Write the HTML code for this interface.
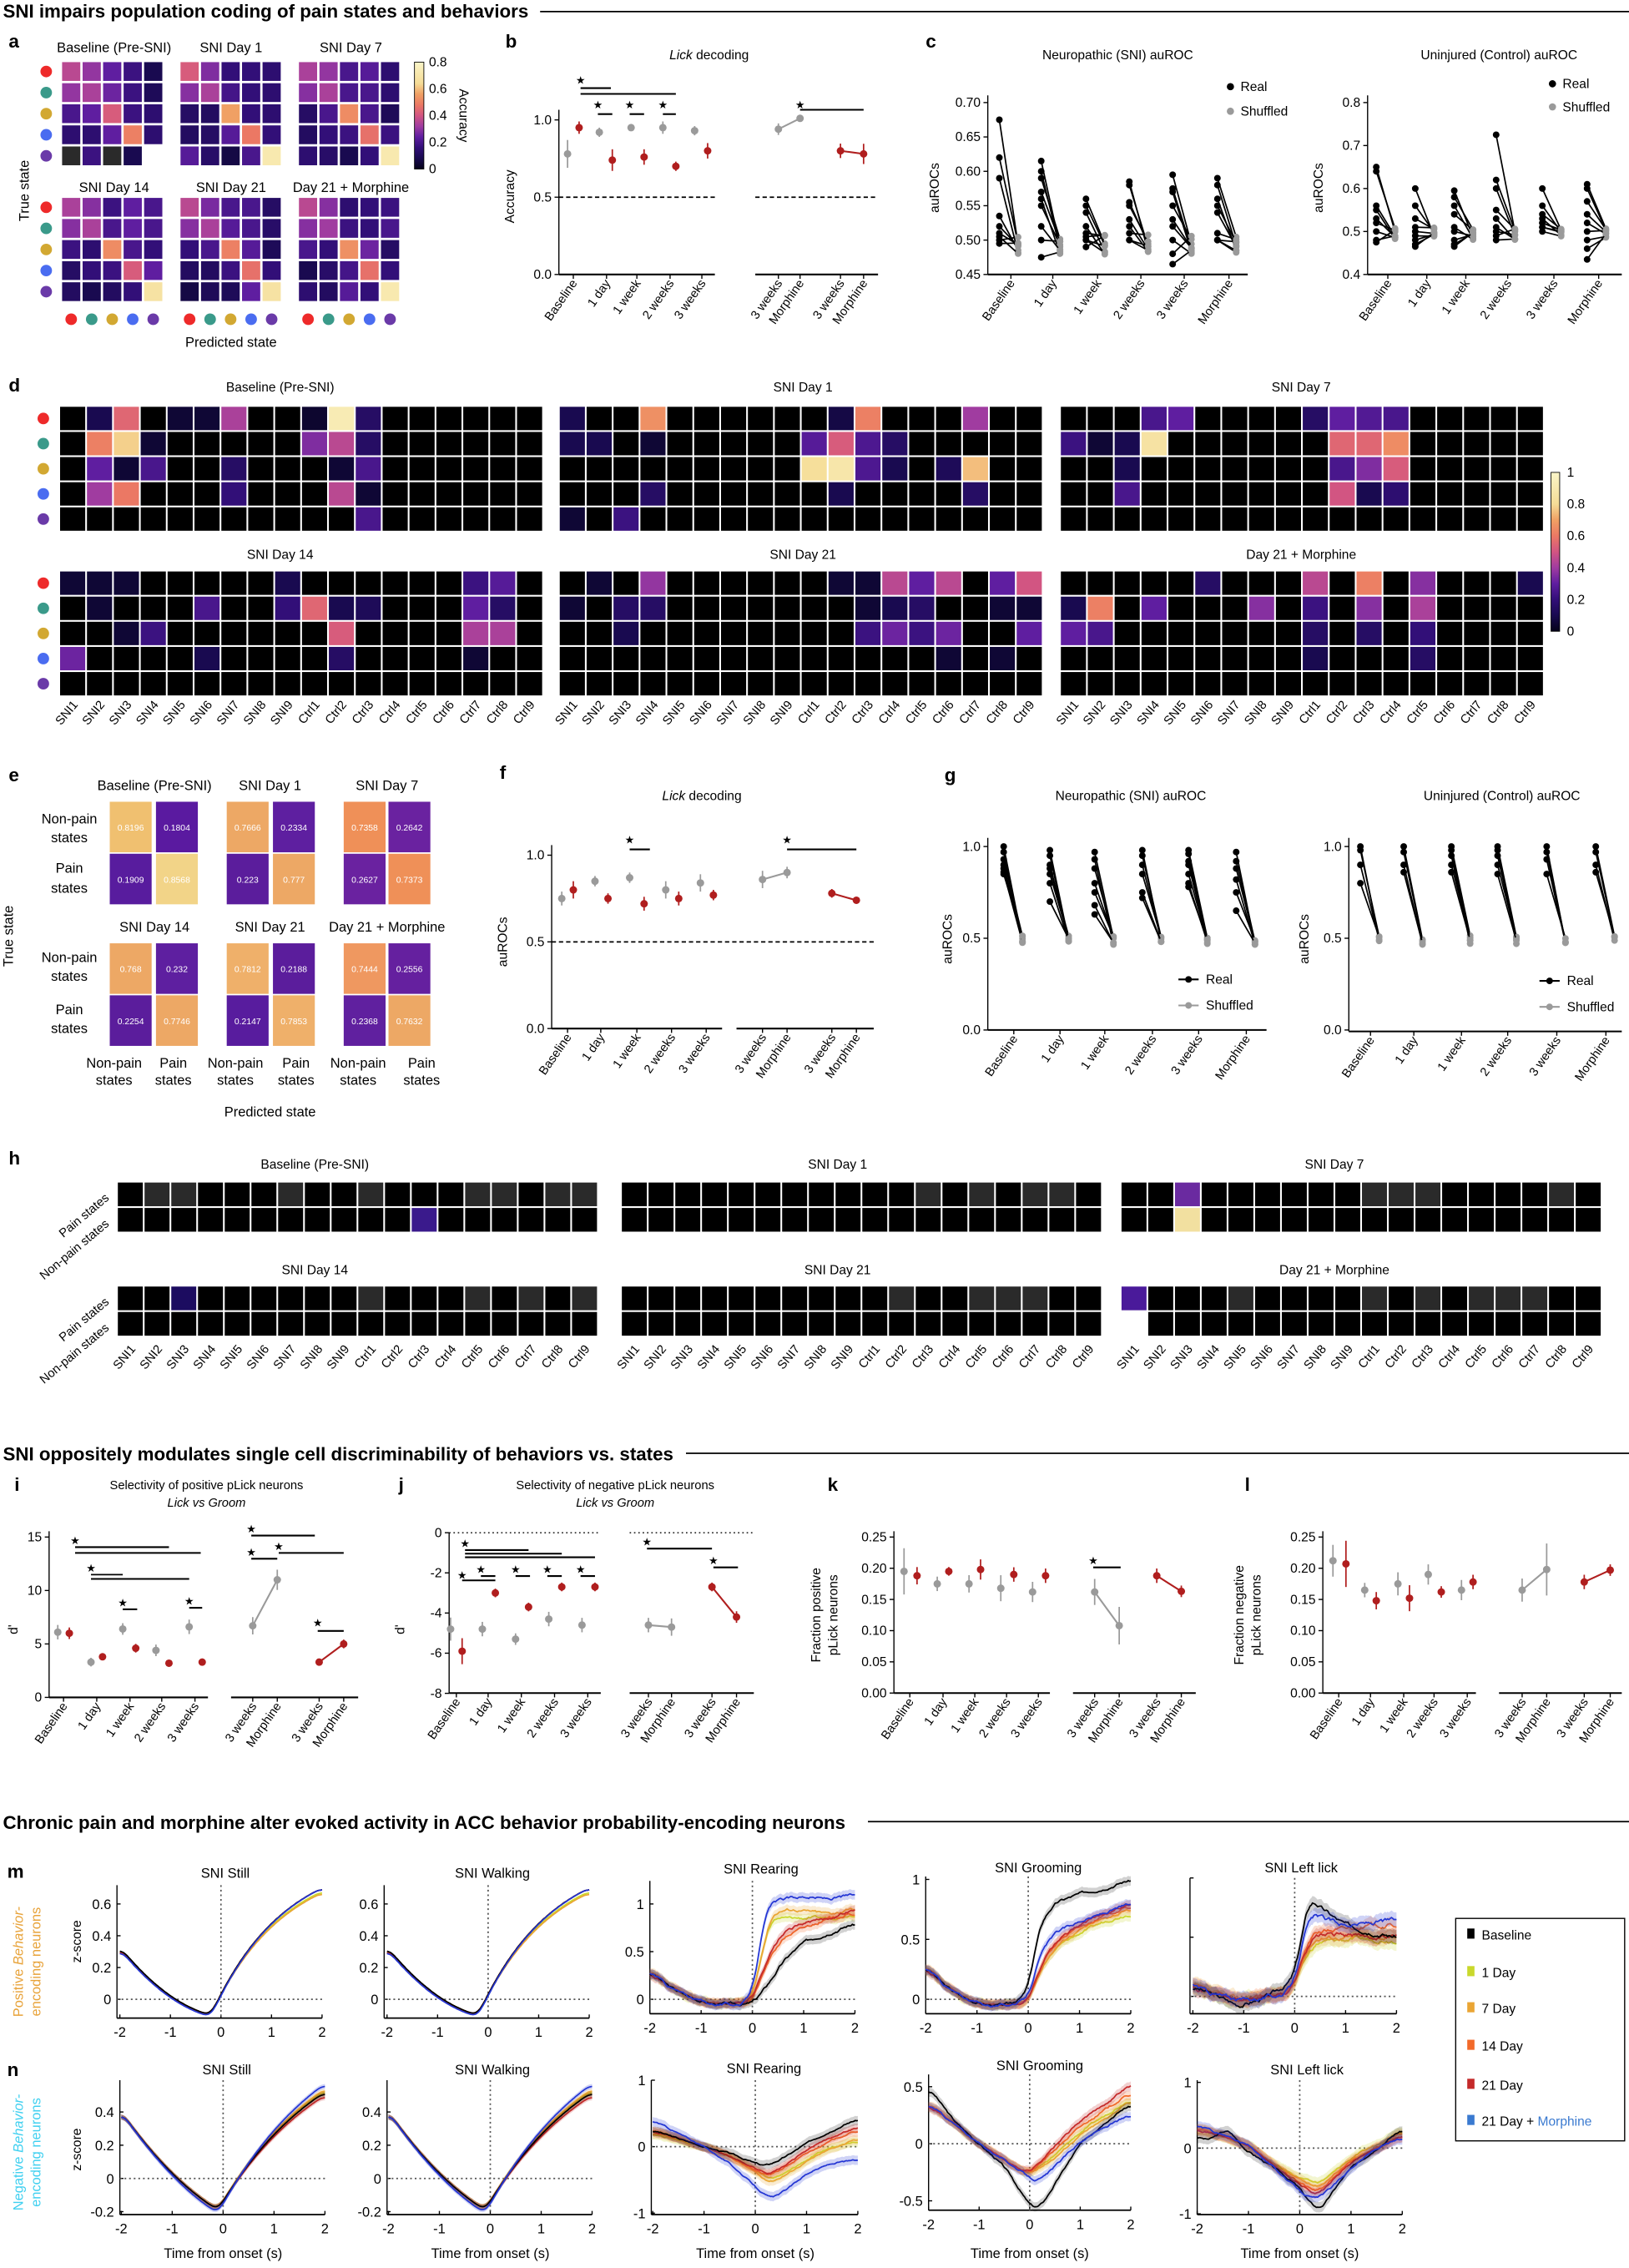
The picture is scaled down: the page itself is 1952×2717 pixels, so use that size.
<!DOCTYPE html>
<html><head><meta charset="utf-8">
<style>
html,body{margin:0;padding:0;background:#fff;}
svg{display:block;font-family:"Liberation Sans",Arial,sans-serif;}
</style></head>
<body>
<svg id="s" xmlns="http://www.w3.org/2000/svg" width="1952" height="2717" viewBox="0 0 1128 1570" preserveAspectRatio="none">
<rect x="0" y="0" width="1128" height="1570" fill="#fff"/>
<defs>
<linearGradient id="cb" x1="0" y1="1" x2="0" y2="0">
<stop offset="0" stop-color="#050319"/><stop offset="0.1" stop-color="#190a50"/><stop offset="0.2" stop-color="#320f78"/><stop offset="0.3" stop-color="#5f1ea0"/><stop offset="0.4" stop-color="#a03ca0"/><stop offset="0.5" stop-color="#d25582"/><stop offset="0.6" stop-color="#eb7864"/><stop offset="0.7" stop-color="#f0a064"/><stop offset="0.8" stop-color="#f5dc96"/><stop offset="1" stop-color="#faf5c8"/>
</linearGradient>
</defs>
</svg>
<script>
const NS='http://www.w3.org/2000/svg';
const svg=document.getElementById('s');
function E(tag,a,txt,parent){const e=document.createElementNS(NS,tag);for(const k in a){if(a[k]!==''&&a[k]!=null)e.setAttribute(k,a[k]);}if(txt!=null)e.textContent=txt;(parent||svg).appendChild(e);return e;}
function T(x,y,s,o){o=o||{};const a={x:x,y:y,'font-size':o.fs||9,'text-anchor':o.a||'middle',fill:o.fill||'#000'};if(o.fw)a['font-weight']=o.fw;if(o.it)a['font-style']='italic';if(o.rot!=null)a.transform='rotate('+o.rot+' '+x+' '+y+')';return E('text',a,s);}
function L(x1,y1,x2,y2,o){o=o||{};return E('line',{x1:x1,y1:y1,x2:x2,y2:y2,stroke:o.c||'#000','stroke-width':o.w||0.8,'stroke-dasharray':o.d||''});}
function R(x,y,w,h,f){return E('rect',{x:x,y:y,width:w,height:h,fill:f});}
function C(x,y,r,f){return E('circle',{cx:x,cy:y,r:r,fill:f});}
const stops=[[0,[5,3,25]],[.1,[25,10,80]],[.2,[50,15,120]],[.3,[95,30,160]],[.4,[160,60,160]],[.5,[210,85,130]],[.6,[235,120,100]],[.7,[240,160,100]],[.8,[245,220,150]],[1,[250,245,200]]];
function cmap(v){v=Math.max(0,Math.min(1,v));for(let i=1;i<stops.length;i++){if(v<=stops[i][0]){const a=stops[i-1],b=stops[i];const f=(v-a[0])/(b[0]-a[0]);const c=a[1].map((x,j)=>Math.round(x+(b[1][j]-x)*f));return 'rgb('+c.join(',')+')';}}return 'rgb(250,245,200)';}
const dotC=['#ee2a2a','#3a9a8a','#d2a832','#4a6cf0','#6a3aa8'];
const RED='#b01e1e',GRAY='#9a9a9a';

T(2,12,'SNI impairs population coding of pain states and behaviors',{a:'start',fs:12.9,fw:'bold'});L(374,8,1128,8,{w:1});
T(2,1011,'SNI oppositely modulates single cell discriminability of behaviors vs. states',{a:'start',fs:12.9,fw:'bold'});L(475,1006,1128,1006,{w:1});
T(2,1266,'Chronic pain and morphine alter evoked activity in ACC behavior probability-encoding neurons',{a:'start',fs:12.9,fw:'bold'});L(601,1261,1128,1261,{w:1});

function letter(x,y,s){T(x,y,s,{a:'start',fs:13,fw:'bold'});}
letter(6,33,'a');letter(350,33,'b');letter(641,33,'c');letter(6,271,'d');letter(6,541,'e');letter(346,539,'f');letter(654,541,'g');letter(6,806,'h');
letter(10,1032,'i');letter(276,1032,'j');letter(573,1032,'k');letter(862,1032,'l');letter(5,1300,'m');letter(5,1437,'n');

const A={BL:[[.45,.38,.3,.22,.1],[.38,.42,.32,.22,.12],[.25,.3,.52,.22,.18],[.18,.18,.3,.62,.18],[-1,.22,-1,.1,-2]],
D1:[[.52,.35,.2,.2,.18],[.36,.42,.24,.2,.18],[.15,.14,.7,.2,.18],[.14,.15,.28,.6,.2],[.28,.16,.08,.25,.9]],
D7:[[.42,.38,.25,.28,.18],[.36,.42,.25,.25,.18],[.15,.25,.65,.25,.12],[.14,.2,.22,.58,.22],[.18,.16,.1,.2,.9]],
D14:[[.42,.36,.22,.3,.25],[.36,.42,.25,.3,.25],[.22,.18,.65,.25,.2],[.15,.2,.22,.52,.3],[.14,.1,.14,.2,.85]],
D21:[[.45,.34,.25,.25,.15],[.36,.42,.28,.25,.16],[.2,.25,.62,.28,.12],[.14,.14,.22,.58,.2],[.08,.12,.12,.3,.85]],
DM:[[.45,.36,.18,.2,.22],[.36,.4,.22,.2,.25],[.25,.2,.66,.32,.15],[.1,.16,.24,.58,.2],[.18,.14,.28,.2,.9]]};
function gridA(x0,y0,m){const cw=14.2,rh=14.6;for(let r=0;r<5;r++)for(let c=0;c<5;c++){const v=m[r][c];if(v===-2)continue;R(x0+c*cw,y0+r*rh,cw-1.6,rh-1.6,v===-1?'#2a2a2a':cmap(v));}}
const ax=[43,125,207];
T(79,36,'Baseline (Pre-SNI)',{fs:9.5});T(160,36,'SNI Day 1',{fs:9.5});T(243,36,'SNI Day 7',{fs:9.5});
T(79,133,'SNI Day 14',{fs:9.5});T(160,133,'SNI Day 21',{fs:9.5});T(243,133,'Day 21 + Morphine',{fs:9.5});
gridA(ax[0],43,A.BL);gridA(ax[1],43,A.D1);gridA(ax[2],43,A.D7);
gridA(ax[0],137,A.D14);gridA(ax[1],137,A.D21);gridA(ax[2],137,A.DM);
for(let r=0;r<5;r++){C(32,43+r*14.6+6.5,4,dotC[r]);C(32,137+r*14.6+6.5,4,dotC[r]);}
for(let g=0;g<3;g++)for(let c=0;c<5;c++)C(ax[g]+c*14.2+6.3,221,4,dotC[c]);
T(160,240,'Predicted state',{fs:9.5});
T(20,132,'True state',{fs:9.5,rot:-90});
R(287,43,6.5,74,'url(#cb)');E('rect',{x:287,y:43,width:6.5,height:74,fill:'none',stroke:'#000','stroke-width':0.5});
[['0.8',43],['0.6',61.5],['0.4',80],['0.2',98.5],['0',117]].forEach(p=>T(297,p[1]+3,p[0],{a:'start',fs:9}));
T(318,80,'Accuracy',{fs:9,rot:90});

function pr(x,y,e,col){L(x,y-e,x,y+e,{c:col,w:1});C(x,y,2.6,col);}
function star(x,y){T(x,y+3,'★',{fs:7.5});}
function xlabels(list,y){list.forEach(p=>{T(p[0]+3,y+6,p[1],{a:'end',fs:8.5,rot:-55});L(p[0],y,p[0],y+3,{w:0.8});});}

(function(){const t=E('text',{x:491,y:41,'font-size':9,'text-anchor':'middle'});E('tspan',{'font-style':'italic'},'Lick',t);E('tspan',{},' decoding',t);})();
const yb=v=>190-v*107;
L(387,76,387,190);L(387,190,495,190,{w:1.2});L(523,190,608,190,{w:1.2});
[['1.0',1],['0.5',.5],['0.0',0]].forEach(p=>{T(382,yb(p[1])+3,p[0],{a:'end',fs:9});L(384,yb(p[1]),387,yb(p[1]));});
L(387,yb(.5),495,yb(.5),{d:'3,2',w:1});L(523,yb(.5),608,yb(.5),{d:'3,2',w:1});
T(356,136,'Accuracy',{fs:9,rot:-90});
[[393,.78,.09],[415,.92,.03],[437,.95,.02],[459,.95,.04],[481,.93,.03]].forEach(p=>pr(p[0],yb(p[1]),p[2]*107,GRAY));
[[401,.95,.04],[424,.74,.07],[446,.76,.05],[468,.70,.03],[490,.80,.05]].forEach(p=>pr(p[0],yb(p[1]),p[2]*107,RED));
L(539,yb(.94),554,yb(1.01),{c:GRAY,w:1.2});pr(539,yb(.94),4,GRAY);pr(554,yb(1.01),2,GRAY);
L(582,yb(.80),598,yb(.78),{c:RED,w:1.2});pr(582,yb(.80),5,RED);pr(598,yb(.78),7,RED);
star(402,55);L(402,61,423,61,{w:1.2});L(402,65,468,65,{w:1.2});
star(414,72);L(414,79,424,79,{w:1.2});star(436,72);L(436,79,446,79,{w:1.2});star(459,72);L(459,79,468,79,{w:1.2});
star(554,72);L(554,76,598,76,{w:1.2});
const catB=[[397,'Baseline'],[420,'1 day'],[441,'1 week'],[464,'2 weeks'],[486,'3 weeks'],[539,'3 weeks'],[554,'Morphine'],[582,'3 weeks'],[598,'Morphine']];
xlabels(catB,190);

T(774,41,'Neuropathic (SNI) auROC',{fs:9});T(1038,41,'Uninjured (Control) auROC',{fs:9});
function rng(seed){let s=seed;return ()=>{s=(s*9301+49297)%233280;return s/233280;};}
function realShuf(ticks,data,ymap,shufBase,shufSpread,seed,offR,offS){const r=rng(seed);ticks.forEach((tx,i)=>{data[i].forEach(v=>{const sv=shufBase+(r()-0.5)*shufSpread;L(tx+offR,ymap(v),tx+offS,ymap(sv),{w:1});C(tx+offS,ymap(sv),2.3,GRAY);C(tx+offR,ymap(v),2.3,'#000');});});}
const ycl=v=>190-(v-0.45)/0.25*119;
L(684,66,684,190);L(684,190,864,190,{w:1.2});
[['0.70',.7],['0.65',.65],['0.60',.6],['0.55',.55],['0.50',.5],['0.45',.45]].forEach(p=>{T(679,ycl(p[1])+3,p[0],{a:'end',fs:9});L(681,ycl(p[1]),684,ycl(p[1]));});
T(650,130,'auROCs',{fs:9,rot:-90});
const tC=[700,729,760,790,820,851];
realShuf(tC,[[.675,.62,.59,.535,.52,.51,.505,.5,.495],[.615,.6,.59,.57,.56,.55,.52,.5,.475],[.56,.55,.54,.52,.51,.505,.5,.5,.49],[.585,.58,.555,.55,.53,.52,.51,.5,.5],[.595,.575,.57,.55,.53,.52,.5,.48,.465],[.59,.58,.56,.55,.54,.51,.5,.5,.5]],ycl,.493,.03,7,-8,5);
xlabels(tC.map((x,i)=>[x,['Baseline','1 day','1 week','2 weeks','3 weeks','Morphine'][i]]),190);
C(852,60,2.5,'#000');T(859,63,'Real',{a:'start',fs:9});C(852,77,2.5,GRAY);T(859,80,'Shuffled',{a:'start',fs:9});
const ycr=v=>190-(v-0.4)/0.4*119;
L(947,66,947,190);L(947,190,1123,190,{w:1.2});
[['0.8',.8],['0.7',.7],['0.6',.6],['0.5',.5],['0.4',.4]].forEach(p=>{T(942,ycr(p[1])+3,p[0],{a:'end',fs:9});L(944,ycr(p[1]),947,ycr(p[1]));});
T(916,130,'auROCs',{fs:9,rot:-90});
const tC2=[961,988,1015,1044,1076,1107];
realShuf(tC2,[[.65,.64,.56,.55,.53,.52,.5,.48,.475],[.6,.56,.53,.51,.5,.49,.48,.47,.465],[.595,.58,.56,.54,.51,.5,.48,.47,.465],[.725,.62,.6,.55,.53,.51,.5,.49,.48],[.6,.56,.54,.53,.52,.52,.51,.51,.5],[.61,.6,.57,.54,.52,.5,.48,.46,.435]],ycr,.495,.03,11,-8,5);
xlabels(tC2.map((x,i)=>[x,['Baseline','1 day','1 week','2 weeks','3 weeks','Morphine'][i]]),190);
C(1075,58,2.5,'#000');T(1082,61,'Real',{a:'start',fs:9});C(1075,74,2.5,GRAY);T(1082,77,'Shuffled',{a:'start',fs:9});

function heat(x0,y0,W,nc,nr,rh,cells,base){const cw=W/nc;for(let r=0;r<nr;r++)for(let c=0;c<nc;c++){const key=r+','+c;let f=base||'#000';if(cells[key]!==undefined){const v=cells[key];f=typeof v==='string'?v:cmap(v);}R(x0+c*cw+0.6,y0+r*rh+0.6,cw-1.2,rh-1.2,f);}}
function sp(rows){const o={};rows.forEach((row,r)=>{for(const c in row)o[r+','+c]=row[c];});return o;}
const dX=[41,387,734],dW=335,rh=17.4;
T(194,271,'Baseline (Pre-SNI)',{fs:9});T(556,271,'SNI Day 1',{fs:9});T(901,271,'SNI Day 7',{fs:9});
T(194,387,'SNI Day 14',{fs:9});T(556,387,'SNI Day 21',{fs:9});T(901,387,'Day 21 + Morphine',{fs:9});
heat(dX[0],281,dW,18,5,rh,sp([{1:.1,2:.55,4:.05,5:.05,6:.42,9:.04,10:.92,11:.15},{1:.62,2:.78,3:.05,9:.35,10:.45,11:.15},{1:.3,2:.05,3:.25,6:.15,10:.05,11:.25},{1:.4,2:.6,6:.2,10:.45,11:.05},{11:.25}]));
heat(dX[1],281,dW,18,5,rh,sp([{0:.1,3:.66,10:.08,11:.62,15:.4},{0:.1,1:.1,3:.05,9:.28,10:.52,11:.26,12:.15},{9:.82,10:.88,11:.26,12:.1,14:.12,15:.75},{3:.15,10:.1,15:.15},{0:.05,2:.22}]));
heat(dX[2],281,dW,18,5,rh,sp([{3:.25,4:.3,9:.15,10:.3,11:.27,12:.25},{0:.22,1:.05,2:.1,3:.85,10:.55,11:.55,12:.65},{2:.1,10:.25,11:.35,12:.52},{2:.25,10:.5,11:.1,12:.18},{}]));
heat(dX[0],395,dW,18,5,rh,sp([{0:.05,1:.05,2:.05,8:.1,15:.22,16:.28},{1:.05,5:.25,8:.2,9:.55,10:.1,11:.12,15:.3,16:.15},{2:.05,3:.22,10:.52,15:.42,16:.42},{0:.32,5:.1,10:.15,15:.05},{}]));
heat(dX[1],395,dW,18,5,rh,sp([{1:.05,3:.38,10:.05,11:.05,12:.45,13:.3,14:.45,16:.3,17:.5},{0:.05,2:.15,3:.15,11:.05,12:.1,13:.15,16:.05,17:.05},{2:.1,11:.22,12:.32,13:.22,14:.32,17:.3},{14:.05,16:.05},{}]));
heat(dX[2],395,dW,18,5,rh,sp([{5:.15,9:.45,11:.62,13:.36,17:.1},{0:.1,1:.62,3:.3,7:.36,9:.22,11:.36,13:.42},{0:.3,1:.25,9:.15,11:.15,13:.2},{9:.1,13:.15},{}]));
for(let r=0;r<5;r++){C(30,281+r*rh+8.7,4,dotC[r]);C(30,395+r*rh+8.7,4,dotC[r]);}
const names=[];for(let i=1;i<=9;i++)names.push('SNI'+i);for(let i=1;i<=9;i++)names.push('Ctrl'+i);
function nameLabels(x0,W,y){const cw=W/18;names.forEach((n,i)=>T(x0+i*cw+cw/2+4,y,n,{a:'end',fs:8.5,rot:-50}));}
dX.forEach(x=>nameLabels(x,dW,488));
R(1074,327,6,110,'url(#cb)');E('rect',{x:1074,y:327,width:6,height:110,fill:'none',stroke:'#000','stroke-width':0.5});
[['1',327],['0.8',349],['0.6',371],['0.4',393],['0.2',415],['0',437]].forEach(p=>T(1085,p[1]+3,p[0],{a:'start',fs:9}));

T(107,547,'Baseline (Pre-SNI)',{fs:9.5});T(187,547,'SNI Day 1',{fs:9.5});T(268,547,'SNI Day 7',{fs:9.5});
T(107,645,'SNI Day 14',{fs:9.5});T(187,645,'SNI Day 21',{fs:9.5});T(268,645,'Day 21 + Morphine',{fs:9.5});
function ecell(x,y,v,col){R(x,y,29,35,col);T(x+14.5,y+20,v,{fs:6,fill:'#fff'});}
const E1=[[76,555,'0.8196','#f0c070'],[108,555,'0.1804','#5a1aa0'],[76,591,'0.1909','#581c9e'],[108,591,'0.8568','#f2d488'],
[157,555,'0.7666','#eda865'],[189,555,'0.2334','#5e1fa0'],[157,591,'0.223','#5b1d9c'],[189,591,'0.777','#eda865'],
[238,555,'0.7358','#ef9058'],[269,555,'0.2642','#6a22a0'],[238,591,'0.2627','#6a22a0'],[269,591,'0.7373','#ef9058'],
[76,653,'0.768','#eda865'],[108,653,'0.232','#5e1fa0'],[76,689,'0.2254','#5b1d9c'],[108,689,'0.7746','#eda865'],
[157,653,'0.7812','#efb06a'],[189,653,'0.2188','#5b1d9c'],[157,689,'0.2147','#581c9e'],[189,689,'0.7853','#efb06a'],
[238,653,'0.7444','#ef9860'],[269,653,'0.2556','#65209f'],[238,689,'0.2368','#60209f'],[269,689,'0.7632','#eda865']];
E1.forEach(p=>ecell(p[0],p[1],p[2],p[3]));
[[570,'Non-pain'],[583,'states'],[604,'Pain'],[618,'states'],[666,'Non-pain'],[679,'states'],[702,'Pain'],[715,'states']].forEach(p=>T(48,p[0],p[1],{fs:9.5}));
[[79,'Non-pain'],[120,'Pain'],[163,'Non-pain'],[205,'Pain'],[248,'Non-pain'],[292,'Pain']].forEach(p=>{T(p[0],739,p[1],{fs:9.5});T(p[0],751,'states',{fs:9.5});});
T(187,773,'Predicted state',{fs:9.5});T(9,648,'True state',{fs:9.5,rot:-90});

(function(){const t=E('text',{x:486,y:554,'font-size':9,'text-anchor':'middle'});E('tspan',{'font-style':'italic'},'Lick',t);E('tspan',{},' decoding',t);})();
const yf=v=>712-v*120;
L(382,585,382,712);L(382,712,500,712,{w:1.2});L(510,712,605,712,{w:1.2});
[['1.0',1],['0.5',.5],['0.0',0]].forEach(p=>{T(377,yf(p[1])+3,p[0],{a:'end',fs:9});L(379,yf(p[1]),382,yf(p[1]));});
L(382,yf(.5),605,yf(.5),{d:'3,2',w:1});
T(351,652,'auROCs',{fs:9,rot:-90});
[[389,.75,.04],[412,.85,.03],[436,.87,.03],[461,.80,.05],[485,.84,.05]].forEach(p=>pr(p[0],yf(p[1]),p[2]*120,GRAY));
[[397,.80,.05],[421,.75,.03],[446,.72,.04],[470,.75,.04],[494,.77,.03]].forEach(p=>pr(p[0],yf(p[1]),p[2]*120,RED));
L(528,yf(.86),545,yf(.90),{c:GRAY,w:1.2});pr(528,yf(.86),6,GRAY);pr(545,yf(.90),4,GRAY);
L(576,yf(.78),593,yf(.74),{c:RED,w:1.2});pr(576,yf(.78),3,RED);pr(593,yf(.74),2,RED);
star(436,581);L(436,588,450,588,{w:1.2});star(545,581);L(545,588,593,588,{w:1.2});
xlabels([[393,'Baseline'],[416,'1 day'],[441,'1 week'],[465,'2 weeks'],[489,'3 weeks'],[528,'3 weeks'],[545,'Morphine'],[576,'3 weeks'],[593,'Morphine']],712);

T(783,554,'Neuropathic (SNI) auROC',{fs:9});T(1040,554,'Uninjured (Control) auROC',{fs:9});
const yg=v=>713-v*127;
L(684,580,684,713);L(684,713,877,713,{w:1.2});
[['1.0',1],['0.5',.5],['0.0',0]].forEach(p=>{T(679,yg(p[1])+3,p[0],{a:'end',fs:9});L(681,yg(p[1]),684,yg(p[1]));});
T(659,650,'auROCs',{fs:9,rot:-90});
const tG=[702,734,765,798,830,863];
realShuf(tG,[[1,.97,.93,.9,.88,.86,.85],[.98,.95,.9,.88,.85,.8,.7],[.97,.93,.88,.8,.75,.68,.63],[.98,.95,.9,.85,.75,.72],[.98,.96,.92,.9,.85,.8,.78],[.97,.92,.88,.82,.75,.65]],yg,.49,.05,3,-7,6);
xlabels(tG.map((x,i)=>[x,['Baseline','1 day','1 week','2 weeks','3 weeks','Morphine'][i]]),713);
L(816,678,830,678,{w:1.2});C(823,678,2.3,'#000');T(835,681,'Real',{a:'start',fs:9});
L(816,696,830,696,{c:GRAY,w:1.2});C(823,696,2.3,GRAY);T(835,699,'Shuffled',{a:'start',fs:9});
L(934,580,934,714);L(934,714,1123,714,{w:1.2});
[['1.0',1],['0.5',.5],['0.0',0]].forEach(p=>{T(929,713-p[1]*127+3,p[0],{a:'end',fs:9});L(931,713-p[1]*127,934,713-p[1]*127);});
T(906,650,'auROCs',{fs:9,rot:-90});
const tG2=[949,979,1012,1044,1078,1112];
realShuf(tG2,[[1,.98,.9,.8],[1,.97,.9,.86],[1,.98,.95,.9,.86],[1,.98,.95,.9,.85],[1,.97,.93,.85],[1,.97,.9,.86]],yg,.49,.05,5,-7,6);
xlabels(tG2.map((x,i)=>[x,['Baseline','1 day','1 week','2 weeks','3 weeks','Morphine'][i]]),714);
L(1066,679,1080,679,{w:1.2});C(1073,679,2.3,'#000');T(1085,682,'Real',{a:'start',fs:9});
L(1066,697,1080,697,{c:GRAY,w:1.2});C(1073,697,2.3,GRAY);T(1085,700,'Shuffled',{a:'start',fs:9});

const hX=[81,430,776],hW=333,G='#2a2a2a';
T(218,809,'Baseline (Pre-SNI)',{fs:9});T(580,809,'SNI Day 1',{fs:9});T(924,809,'SNI Day 7',{fs:9});
T(218,882,'SNI Day 14',{fs:9});T(580,882,'SNI Day 21',{fs:9});T(924,882,'Day 21 + Morphine',{fs:9});
function gm(arr){const o={};arr.forEach(c=>o[c]=G);return o;}
heat(hX[0],818,hW,18,2,17.6,sp([gm([1,2,6,9,13,14,16,17]),{11:'#3a1a8c'}]));
heat(hX[1],818,hW,18,2,17.6,sp([gm([11,13,15,16]),{}]));
heat(hX[2],818,hW,18,2,17.6,sp([Object.assign(gm([9,10,11,16]),{2:'#6a2aa0'}),{2:'#f2e0a0'}]));
heat(hX[0],890,hW,18,2,17.6,sp([Object.assign(gm([9,13,15,17]),{2:'#1c0c60'}),{}]));
heat(hX[1],890,hW,18,2,17.6,sp([gm([10,13,14,15]),{}]));
heat(hX[2],890,hW,18,2,17.6,sp([Object.assign(gm([4,9,11,13,14,15]),{0:'#4a1a9a'}),{0:'#ffffff'}]));
[[818],[890]].forEach(p=>{T(76,p[0]+12,'Pain states',{a:'end',fs:8.5,rot:-40});T(76,p[0]+30,'Non-pain states',{a:'end',fs:8.5,rot:-40});});
hX.forEach(x=>nameLabels(x,hW,934));

T(143,1031,'Selectivity of positive pLick neurons',{fs:8.5});
E('text',{x:143,y:1043,'font-size':8.5,'text-anchor':'middle','font-style':'italic'},'Lick vs Groom');
T(426,1031,'Selectivity of negative pLick neurons',{fs:8.5});
E('text',{x:426,y:1043,'font-size':8.5,'text-anchor':'middle','font-style':'italic'},'Lick vs Groom');
function ptsPlot(grayP,redP,ymap,gPair,rPair){grayP.forEach(p=>pr(p[0],ymap(p[1]),p[2],GRAY));redP.forEach(p=>pr(p[0],ymap(p[1]),p[2],RED));
L(gPair[0][0],ymap(gPair[0][1]),gPair[1][0],ymap(gPair[1][1]),{c:GRAY,w:1.2});pr(gPair[0][0],ymap(gPair[0][1]),gPair[0][2],GRAY);pr(gPair[1][0],ymap(gPair[1][1]),gPair[1][2],GRAY);
L(rPair[0][0],ymap(rPair[0][1]),rPair[1][0],ymap(rPair[1][1]),{c:RED,w:1.2});pr(rPair[0][0],ymap(rPair[0][1]),rPair[0][2],RED);pr(rPair[1][0],ymap(rPair[1][1]),rPair[1][2],RED);}
const yi=v=>1175-v*7.4;
L(34,1060,34,1175);L(34,1175,144,1175,{w:1.2});L(160,1175,248,1175,{w:1.2});
[['15',15],['10',10],['5',5],['0',0]].forEach(p=>{T(29,yi(p[1])+3,p[0],{a:'end',fs:9});L(31,yi(p[1]),34,yi(p[1]));});
T(12,1128,"d'",{fs:9,rot:-90});
ptsPlot([[40,6.1,5],[63,3.3,3],[85,6.4,4],[108,4.4,4],[131,6.6,5]],[[48,6,4],[71,3.8,2],[94,4.6,3],[117,3.2,2],[140,3.3,2]],yi,[[175,6.7,6],[192,11,7]],[[221,3.3,2],[238,5.0,3]]);
star(52,1066);L(52,1071,117,1071,{w:1.2});L(52,1075,139,1075,{w:1.2});
star(63,1085);L(63,1090,85,1090,{w:1});L(63,1093,131,1093,{w:1.2});
star(85,1109);L(85,1114,95,1114,{w:1.2});star(131,1108);L(131,1113,140,1113,{w:1.2});
star(174,1058);L(174,1063,218,1063,{w:1.2});star(174,1074);L(174,1079,192,1079,{w:1.2});star(193,1070);L(193,1075,238,1075,{w:1.2});
star(220,1123);L(220,1129,238,1129,{w:1.2});
xlabels([[44,'Baseline'],[67,'1 day'],[90,'1 week'],[112,'2 weeks'],[135,'3 weeks'],[175,'3 weeks'],[192,'Morphine'],[221,'3 weeks'],[238,'Morphine']],1175);
const yj=v=>1061-v*13.9;
L(311,1061,311,1172);L(311,1172,416,1172,{w:1.2});L(436,1172,522,1172,{w:1.2});
[['0',0],['-2',-2],['-4',-4],['-6',-6],['-8',-8]].forEach(p=>{T(306,yj(p[1])+3,p[0],{a:'end',fs:9});L(308,yj(p[1]),311,yj(p[1]));});
L(311,1061,416,1061,{d:'1,2',w:0.8});L(436,1061,522,1061,{d:'1,2',w:0.8});
T(280,1128,"d'",{fs:9,rot:-90});
ptsPlot([[312,-4.8,8],[334,-4.8,5],[357,-5.3,4],[380,-4.3,5],[403,-4.6,5]],[[320,-5.9,9],[343,-3.0,3],[366,-3.7,3],[389,-2.7,3],[412,-2.7,3]],yj,[[449,-4.6,5],[465,-4.7,6]],[[493,-2.7,3],[510,-4.2,4]]);
star(322,1068);L(322,1073,366,1073,{w:1.2});L(322,1075.5,389,1075.5,{w:1.2});L(322,1078,412,1078,{w:1.2});
star(320,1090);L(320,1094,343,1094,{w:1.2});star(333,1086);L(333,1091,343,1091,{w:1.2});
[357,379,402].forEach(x=>{star(x,1086);L(x,1091,x+10,1091,{w:1.2});});
star(448,1067);L(448,1072,493,1072,{w:1.2});star(494,1080);L(494,1085,511,1085,{w:1.2});
xlabels([[316,'Baseline'],[338,'1 day'],[361,'1 week'],[384,'2 weeks'],[407,'3 weeks'],[449,'3 weeks'],[465,'Morphine'],[493,'3 weeks'],[510,'Morphine']],1172);
const yk=v=>1172-v*432;
L(619,1060,619,1172);L(619,1172,727,1172,{w:1.2});L(743,1172,828,1172,{w:1.2});
[['0.25',.25],['0.20',.2],['0.15',.15],['0.10',.1],['0.05',.05],['0.00',0]].forEach(p=>{T(614,yk(p[1])+3,p[0],{a:'end',fs:9});L(616,yk(p[1]),619,yk(p[1]));});
T(568,1118,'Fraction positive',{fs:9,rot:-90});T(580,1118,'pLick neurons',{fs:9,rot:-90});
ptsPlot([[626,.195,16],[649,.175,5],[671,.175,6],[693,.168,9],[715,.162,7]],[[635,.188,6],[657,.195,3],[679,.198,7],[702,.19,5],[724,.188,5]],yk,[[758,.162,9],[775,.108,13]],[[801,.188,5],[818,.163,4]]);
star(757,1080);L(757,1085,776,1085,{w:1.2});
xlabels([[630,'Baseline'],[653,'1 day'],[675,'1 week'],[697,'2 weeks'],[719,'3 weeks'],[758,'3 weeks'],[775,'Morphine'],[801,'3 weeks'],[818,'Morphine']],1172);
L(916,1060,916,1172);L(916,1172,1022,1172,{w:1.2});L(1038,1172,1123,1172,{w:1.2});
[['0.25',.25],['0.20',.2],['0.15',.15],['0.10',.1],['0.05',.05],['0.00',0]].forEach(p=>{T(911,yk(p[1])+3,p[0],{a:'end',fs:9});L(913,yk(p[1]),916,yk(p[1]));});
T(861,1118,'Fraction negative',{fs:9,rot:-90});T(873,1118,'pLick neurons',{fs:9,rot:-90});
ptsPlot([[923,.212,11],[945,.165,5],[968,.175,8],[989,.19,7],[1012,.165,7]],[[932,.207,16],[953,.148,6],[976,.152,9],[998,.162,4],[1020,.178,5]],yk,[[1054,.165,8],[1071,.198,18]],[[1097,.178,5],[1115,.197,4]]);
xlabels([[927,'Baseline'],[949,'1 day'],[972,'1 week'],[993,'2 weeks'],[1016,'3 weeks'],[1054,'3 weeks'],[1071,'Morphine'],[1097,'3 weeks'],[1115,'Morphine']],1172);

const SC=['#000000','#c9d82c','#eaa534','#f26a2a','#c42a2a','#2436d4'];
function interp(pts,t){if(t<=pts[0][0])return pts[0][1];for(let i=1;i<pts.length;i++){if(t<=pts[i][0]){const a=pts[i-1],b=pts[i];return a[1]+(b[1]-a[1])*(t-a[0])/(b[0]-a[0]);}}return pts[pts.length-1][1];}
function series(fn,noise,seed){const N=161,r=rng(seed);let ys=[];for(let i=0;i<N;i++){const t=-2+4*i/(N-1);ys.push(fn(t));}
for(let pass=0;pass<3;pass++){const z=ys.slice();for(let i=0;i<N;i++){let s=0,c=0;for(let k=-3;k<=3;k++){const j=i+k;if(j>=0&&j<N){s+=z[j];c++;}}ys[i]=s/c;}}
if(noise){let nz=0;for(let i=0;i<N;i++){nz=0.8*nz+(r()-0.5)*noise;ys[i]+=nz;}}return ys;}
function plot(P,curves,band){
 const X=t=>P.x0+(t+2)/4*(P.x1-P.x0),Y=v=>P.y0-v*P.k;
 L(P.ax,P.top,P.ax,P.bot);L(P.ax,P.bot,P.x1,P.bot,{w:1});
 [-2,-1,0,1,2].forEach(t=>{L(X(t),P.bot,X(t),P.bot-2.5);T(X(t),P.bot+13,String(t),{fs:9.5});});
 P.ticks.forEach(p=>{L(P.ax,Y(p[0]),P.ax+2.5,Y(p[0]));if(p[1])T(P.ax-4,Y(p[0])+3.5,p[1],{a:'end',fs:9.5});});
 T(P.tx,P.ty,P.title,{fs:9.5});
 L(X(0),P.top,X(0),P.bot,{d:'1.2,2',w:1,c:'#555'});L(P.ax,Y(0),P.x1,Y(0),{d:'1.2,2',w:1,c:'#555'});
 const order=[1,2,3,4,0,5];
 order.forEach(si=>{const ys=curves[si];if(!ys)return;const N=ys.length;let d='';const xs=ys.map((v,i)=>X(-2+4*i/(N-1)));
  if(band){let up=[],dn=[];for(let i=0;i<N;i++){up.push(xs[i].toFixed(1)+','+Y(ys[i]+band).toFixed(1));dn.push(xs[i].toFixed(1)+','+Y(ys[i]-band).toFixed(1));}
   E('polygon',{points:up.concat(dn.reverse()).join(' '),fill:SC[si],opacity:si===0?0.18:0.22,stroke:'none'});}
  for(let i=0;i<N;i++){let yy=Math.max(P.top,Math.min(P.bot,Y(ys[i])));d+=(i?'L':'M')+xs[i].toFixed(1)+','+yy.toFixed(1);}
  E('path',{d:d,fill:'none',stroke:SC[si],'stroke-width':1});});
 if(P.xlab)T((P.x0+P.x1)/2,1563,'Time from onset (s)',{fs:9.5});
}
function still(min,start,end,tmin){return t=>{if(t<tmin){const u=(tmin-t)/(2+tmin);return min+(start-min)*(0.35*u+0.65*u*u);}const u=(t-tmin);return min+(end-min)*(1-Math.exp(-u/1.45))/(1-Math.exp(-(2-tmin)/1.45));};}
function multi(fnArr,noise){return fnArr.map((f,i)=>series(f,noise,i*17+3));}
const mStillF=[0,1,2,3,4,5].map(i=>still(-0.1+(i===5?-0.01:0),0.33-i*0.003,0.7-(i===2?0.03:0)-(i===1?0.02:0),-0.2));
const mA={ticks:[[0.6,'0.6'],[0.4,'0.4'],[0.2,'0.2'],[0,'0']],y0:1384,k:110,top:1305,bot:1397};
plot(Object.assign({ax:81,x0:83,x1:223,tx:156,ty:1300,title:'SNI Still'},mA),multi(mStillF,0),0);
plot(Object.assign({ax:266,x0:268,x1:408,tx:341,ty:1300,title:'SNI Walking'},mA),multi(mStillF,0),0);
const preR=[[-2,.3],[-1.6,.12],[-1.2,.02],[-0.8,-0.05],[-0.4,-0.05]];
const rearK=[preR.concat([[0,-.05],[.3,.15],[.6,.4],[1,.6],[1.5,.7],[2,.8]]),preR.concat([[0,0],[.2,.5],[.35,.85],[.7,.85],[1.5,.85],[2,.9]]),preR.concat([[0,0],[.2,.5],[.35,.9],[.7,.95],[1.5,.9],[2,.95]]),preR.concat([[0,-.02],[.3,.4],[.6,.65],[1,.75],[1.5,.85],[2,.9]]),preR.concat([[0,0],[.3,.45],[.6,.7],[1,.8],[1.5,.85],[2,.95]]),preR.concat([[-0.2,-0.06],[0,.05],[.15,.6],[.3,1.0],[.6,1.05],[1,1.08],[1.5,1.05],[2,1.1]])];
plot({ax:450,x0:450,x1:592,y0:1384,k:66,top:1302,bot:1394,ticks:[[1,'1'],[0.5,'0.5'],[0,'0']],tx:527,ty:1297,title:'SNI Rearing'},multi(rearK.map(k=>t=>interp(k,t)),0.02),0.05);
const preG=[[-2,.28],[-1.6,.1],[-1.2,0],[-0.8,-0.05],[-0.4,-0.05]];
const groomK=[preG.concat([[0,.05],[.2,.6],[.5,.8],[1,.88],[1.5,.93],[2,1.0]]),preG.concat([[0,-.02],[.3,.3],[.6,.45],[1,.55],[1.5,.65],[2,.72]]),preG.concat([[0,-.02],[.3,.3],[.6,.47],[1,.58],[1.5,.68],[2,.75]]),preG.concat([[0,-.02],[.3,.33],[.6,.5],[1,.6],[1.5,.7],[2,.78]]),preG.concat([[0,-.02],[.3,.35],[.6,.5],[1,.62],[1.5,.72],[2,.8]]),preG.concat([[0,0],[.2,.35],[.5,.55],[1,.65],[1.5,.72],[2,.8]])];
plot({ax:641,x0:641,x1:783,y0:1384,k:83,top:1299,bot:1394,ticks:[[1,'1'],[0.5,'0.5'],[0,'0']],tx:719,ty:1296,title:'SNI Grooming'},multi(groomK.map(k=>t=>interp(k,t)),0.015),0.04);
const preL=[[-2,.12],[-1.8,.05],[-1.4,0],[-1,-.03],[-0.5,0],[-0.2,.02],[0,.1]];
const lickK=[[[-2,.08],[-1.5,0],[-1.1,-.08],[-0.5,0],[0,.15],[.15,.55],[.3,.85],[.5,.75],[1,.6],[1.5,.55],[2,.5]],preL.concat([[.2,.3],[.4,.45],[1,.48],[1.5,.48],[2,.48]]),preL.concat([[.2,.35],[.4,.5],[1,.5],[1.5,.5],[2,.5]]),preL.concat([[.2,.4],[.4,.55],[1,.57],[1.5,.6],[2,.6]]),preL.concat([[.2,.4],[.4,.52],[1,.52],[1.5,.5],[2,.52]]),preL.concat([[.15,.5],[.35,.7],[.6,.65],[1,.6],[1.5,.62],[2,.65]])];
plot({ax:824,x0:826,x1:967,y0:1382,k:82,top:1300,bot:1394,ticks:[[1,''],[0.5,''],[0,'']],tx:901,ty:1296,title:'SNI Left lick'},multi(lickK.map(k=>t=>interp(k,t)),0.025),0.06);
function nstill(min,start,end){return t=>{const tm=-0.1;if(t<tm){const u=(tm-t)/1.9;return min+(start-min)*(0.6*u+0.4*u*u);}const u=(t-tm);return min+(end-min)*(1-Math.exp(-u/2.2))/(1-Math.exp(-2.1/2.2));};}
const nStillF=[0,1,2,3,4,5].map(i=>nstill(i===5?-0.21:-0.19,0.4,[0.52,0.53,0.54,0.52,0.5,0.57][i]));
const nA={ticks:[[0.4,'0.4'],[0.2,'0.2'],[0,'0'],[-0.2,'-0.2']],y0:1508,k:115,top:1440,bot:1533,xlab:1};
plot(Object.assign({ax:83,x0:84,x1:225,tx:157,ty:1436,title:'SNI Still'},nA),multi(nStillF,0),0.015);
plot(Object.assign({ax:268,x0:269,x1:410,tx:341,ty:1436,title:'SNI Walking'},nA),multi(nStillF,0),0.015);
const nrK=[[[-2,.25],[-1.5,.12],[-1,0],[-.5,-.1],[0,-.25],[.2,-.3],[.6,-.15],[1,.05],[1.5,.25],[2,.42]],
[[-2,.2],[-1,0],[-.5,-.15],[0,-.35],[.25,-.5],[.6,-.4],[1,-.2],[1.5,0],[2,.1]],
[[-2,.2],[-1,0],[-.5,-.15],[0,-.38],[.25,-.55],[.6,-.42],[1,-.22],[1.5,-.02],[2,.12]],
[[-2,.25],[-1,0],[-.5,-.15],[0,-.35],[.25,-.45],[.6,-.3],[1,-.1],[1.5,.1],[2,.25]],
[[-2,.25],[-1,0],[-.5,-.15],[0,-.32],[.25,-.42],[.6,-.28],[1,-.05],[1.5,.15],[2,.3]],
[[-2,.4],[-1.5,.2],[-1,0],[-.5,-.25],[0,-.6],[.3,-.8],[.7,-.6],[1,-.4],[1.5,-.25],[2,-.2]]];
plot({ax:451,x0:452,x1:594,y0:1486,k:46,top:1440,bot:1533,ticks:[[1,'1'],[0,'0'],[-1,'-1']],tx:529,ty:1435,title:'SNI Rearing',xlab:1},multi(nrK.map(k=>t=>interp(k,t)),0.015),0.07);
const ngK=[[[-2,.5],[-1.5,.2],[-1,0],[-.5,-.2],[-.2,-.4],[0,-.55],[.2,-.57],[.5,-.35],[1,0],[1.5,.2],[2,.35]],
[[-2,.35],[-1,0],[-.3,-.2],[0,-.27],[.5,-.1],[1,.1],[1.5,.25],[2,.4]],
[[-2,.35],[-1,0],[-.3,-.2],[0,-.27],[.5,-.12],[1,.08],[1.5,.22],[2,.38]],
[[-2,.35],[-1,0],[-.3,-.2],[0,-.26],[.5,-.05],[1,.15],[1.5,.3],[2,.45]],
[[-2,.35],[-1,0],[-.3,-.2],[0,-.25],[.5,-.02],[1,.2],[1.5,.35],[2,.53]],
[[-2,.35],[-1,0],[-.3,-.2],[0,-.3],[.2,-.33],[.5,-.2],[1,.02],[1.5,.15],[2,.25]]];
plot({ax:643,x0:643,x1:783,y0:1484,k:79,top:1436,bot:1530,ticks:[[0.5,'0.5'],[0,'0'],[-0.5,'-0.5']],tx:720,ty:1433,title:'SNI Grooming',xlab:1},multi(ngK.map(k=>t=>interp(k,t)),0.012),0.04);
const nlK=[[[-2,.2],[-1.8,.1],[-1.4,.3],[-1.1,0],[-.5,-.3],[0,-.6],[.2,-.85],[.4,-.95],[.7,-.6],[1,-.3],[1.5,0],[2,.3]],
[[-2,.3],[-1,.05],[-.5,-.25],[0,-.45],[.35,-.55],[.7,-.35],[1,-.15],[1.5,.05],[2,.3]],
[[-2,.3],[-1,.05],[-.5,-.25],[0,-.48],[.35,-.6],[.7,-.38],[1,-.18],[1.5,0],[2,.25]],
[[-2,.3],[-1,.05],[-.5,-.28],[0,-.52],[.35,-.68],[.7,-.42],[1,-.2],[1.5,0],[2,.2]],
[[-2,.3],[-1,.05],[-.5,-.28],[0,-.55],[.35,-.72],[.7,-.45],[1,-.22],[1.5,0],[2,.2]],
[[-2,.35],[-1,.05],[-.5,-.3],[0,-.65],[.3,-.8],[.7,-.55],[1,-.3],[1.5,0],[2,.15]]];
plot({ax:829,x0:829,x1:971,y0:1487,k:45.5,top:1440,bot:1533,ticks:[[1,'1'],[0,'0'],[-1,'-1']],tx:905,ty:1436,title:'SNI Left lick',xlab:1},multi(nlK.map(k=>t=>interp(k,t)),0.02),0.08);
(function(){const t=E('text',{x:16,y:1358,'font-size':9.5,'text-anchor':'middle',fill:'#e8a33a',transform:'rotate(-90 16 1358)'});E('tspan',{},'Positive ',t);E('tspan',{'font-style':'italic'},'Behavior-',t);
T(28,1358,'encoding neurons',{fs:9.5,fill:'#e8a33a',rot:-90});
const t2=E('text',{x:16,y:1490,'font-size':9.5,'text-anchor':'middle',fill:'#40d0f0',transform:'rotate(-90 16 1490)'});E('tspan',{},'Negative ',t2);E('tspan',{'font-style':'italic'},'Behavior-',t2);
T(28,1490,'encoding neurons',{fs:9.5,fill:'#40d0f0',rot:-90});})();
T(56,1344,'z-score',{fs:9,rot:-90});T(56,1488,'z-score',{fs:9,rot:-90});
E('rect',{x:1008,y:1328,width:117,height:154,fill:'#fff',stroke:'#000','stroke-width':0.8});
[['Baseline',1339],['1 Day',1365],['7 Day',1390],['14 Day',1416],['21 Day',1443]].forEach((p,i)=>{R(1016,p[1]-4,5,7,SC[i]);T(1026,p[1]+3.5,p[0],{a:'start',fs:9});});
R(1016,1464,5,7,'#3a7ad0');
(function(){const t=E('text',{x:1026,y:1471.5,'font-size':9});E('tspan',{},'21 Day + ',t);E('tspan',{fill:'#3a7ad0'},'Morphine',t);})();
</script>
</body></html>
